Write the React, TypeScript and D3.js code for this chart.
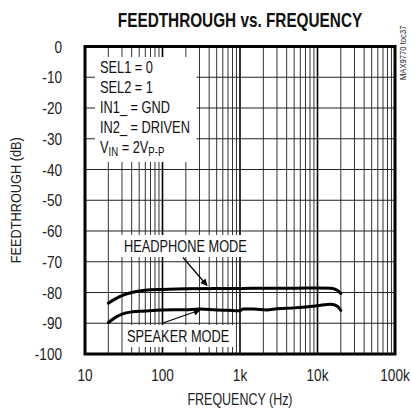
import React from "react";
import * as d3 from "d3";

// Frequency (Hz) and feedthrough (dB)
const headphoneFreq = [20, 25, 30, 40, 50, 70, 100, 200, 500, 1000, 2000, 5000, 10000, 15000, 18000, 20000];
const headphoneDb = [-83.5, -82, -81, -80, -79.5, -79.1, -79, -78.8, -78.7, -78.7, -78.6, -78.6, -78.5, -78.6, -79.3, -80.3];

const speakerFreq = [20, 25, 30, 40, 60, 100, 200, 300, 500, 700, 1000, 1100, 1500, 2200, 3000, 5000, 7000, 10000, 15000, 18000, 20000];
const speakerDb = [-89.8, -88, -87, -86.3, -86, -85.7, -85.6, -85.4, -85.7, -85.8, -85.9, -85.4, -85.4, -85.7, -85.3, -85, -84.7, -84.3, -83.8, -84.5, -85.8];

const yTicks = [0, -10, -20, -30, -40, -50, -60, -70, -80, -90, -100];
const xTicks = [10, 100, 1000, 10000, 100000];
const xTickLabels = ["10", "100", "1k", "10k", "100k"];

const condLines = ["SEL1 = 0", "SEL2 = 1", "IN1_ = GND", "IN2_ = DRIVEN"];

const W = 411;
const H = 410;
const margin = { top: 46.5, right: 16, bottom: 56, left: 85 };
const FONT = "'Liberation Sans', Arial, sans-serif";
const SX = 0.8; // condensed look

// horizontally squeezed text
function CText(props: {
  x: number;
  y: number;
  size?: number;
  anchor?: string;
  bold?: boolean;
  rotate?: number;
  sx?: number;
  fill?: string;
  children: React.ReactNode;
}) {
  const { x, y, size = 16, anchor = "start", bold, rotate = 0, sx = SX, fill = "#111", children } = props;
  return (
    <g transform={`translate(${x},${y}) rotate(${rotate}) scale(${sx},1)`}>
      <text textAnchor={anchor} fontFamily={FONT} fontSize={size} fontWeight={bold ? "bold" : "normal"} fill={fill}>
        {children}
      </text>
    </g>
  );
}

export default function App() {
  const iw = W - margin.left - margin.right;
  const ih = H - margin.top - margin.bottom;

  const x = d3.scaleLog().domain([10, 100000]).range([0, iw]);
  const y = d3.scaleLinear().domain([-100, 0]).range([ih, 0]);

  const minor: number[] = [];
  for (let d = 10; d < 100000; d *= 10) {
    for (let m = 2; m <= 9; m++) minor.push(d * m);
  }

  const line = d3
    .line<[number, number]>()
    .x((d) => x(d[0]))
    .y((d) => y(d[1]))
    .curve(d3.curveMonotoneX);

  const hp = headphoneFreq.map((f, i) => [f, headphoneDb[i]] as [number, number]);
  const sp = speakerFreq.map((f, i) => [f, speakerDb[i]] as [number, number]);

  // label boxes in plot coordinates
  const condBox = { x: 10, y: 10.5, w: 101.5, h: 105 };
  const hpBox = { x: 35, y: 188.5, w: 130, h: 22 };
  const spBox = { x: 38, y: 278.5, w: 110, h: 22 };

  return (
    <svg width={W} height={H} style={{ position: "absolute", left: 0, top: 0, background: "#fff" }}>
      <defs>
        <marker id="arr" viewBox="0 0 10 10" refX="9" refY="5" markerWidth="9" markerHeight="7" orient="auto" markerUnits="userSpaceOnUse">
          <path d="M0,0 L10,5 L0,10 z" fill="#000" />
        </marker>
      </defs>

      {/* Title */}
      <CText x={240} y={27} size={21} bold anchor="middle" sx={0.73}>
        FEEDTHROUGH vs. FREQUENCY
      </CText>

      <CText x={406} y={80} size={9} rotate={-90} sx={0.85} fill="#222">
        MAX9770 toc37
      </CText>

      <g transform={`translate(${margin.left},${margin.top})`}>
        {/* grid */}
        {minor.map((f) => (
          <line key={"m" + f} x1={x(f)} x2={x(f)} y1={0} y2={ih} stroke="#333" strokeWidth={1} />
        ))}
        {xTicks.map((f) => (
          <line key={"M" + f} x1={x(f)} x2={x(f)} y1={0} y2={ih} stroke="#000" strokeWidth={1.6} />
        ))}
        {yTicks.map((t) => (
          <line key={"h" + t} x1={0} x2={iw} y1={y(t)} y2={y(t)} stroke="#222" strokeWidth={1.2} />
        ))}

        {/* white label boxes over the grid */}
        <rect x={condBox.x} y={condBox.y} width={condBox.w} height={condBox.h} fill="#fff" />
        <rect x={hpBox.x} y={hpBox.y} width={hpBox.w} height={hpBox.h} fill="#fff" />
        <rect x={spBox.x} y={spBox.y} width={spBox.w} height={spBox.h} fill="#fff" />

        {/* curves */}
        <path d={line(hp) ?? ""} fill="none" stroke="#000" strokeWidth={3} strokeLinejoin="round" strokeLinecap="round" />
        <path d={line(sp) ?? ""} fill="none" stroke="#000" strokeWidth={3} strokeLinejoin="round" strokeLinecap="round" />

        {/* frame */}
        <rect x={0} y={0} width={iw} height={ih} fill="none" stroke="#000" strokeWidth={3} />

        {/* condition text */}
        {condLines.map((s, i) => (
          <CText key={s} x={15} y={26.5 + i * 20} size={16}>
            {s}
          </CText>
        ))}
        <CText x={15} y={106} size={16}>
          <tspan>V</tspan>
          <tspan fontSize={12} dy={3}>IN</tspan>
          <tspan dy={-3}> = 2V</tspan>
          <tspan fontSize={12} dy={3}>P-P</tspan>
        </CText>

        {/* mode labels */}
        <CText x={39} y={205.5} size={16}>
          HEADPHONE MODE
        </CText>
        <line x1={98} y1={211} x2={122} y2={239} stroke="#000" strokeWidth={1.2} markerEnd="url(#arr)" />

        <CText x={42} y={295.5} size={16}>
          SPEAKER MODE
        </CText>
        <line x1={78} y1={276.5} x2={115} y2={263.5} stroke="#000" strokeWidth={1.2} markerEnd="url(#arr)" />

        {/* y axis labels */}
        {yTicks.map((t) => (
          <CText key={"yl" + t} x={-23} y={y(t) + 6} size={17} anchor="end" fill="#222">
            {t}
          </CText>
        ))}
        {/* x axis labels */}
        {xTicks.map((f, i) => (
          <CText key={"xl" + f} x={x(f)} y={ih + 27} size={17} anchor="middle" fill="#222">
            {xTickLabels[i]}
          </CText>
        ))}

        <CText x={iw / 2} y={ih + 51} size={16} sx={0.78} anchor="middle" fill="#222">
          FREQUENCY (Hz)
        </CText>
        <CText x={-64} y={ih / 2} size={15} sx={0.85} anchor="middle" rotate={-90} fill="#222">
          FEEDTHROUGH (dB)
        </CText>
      </g>
    </svg>
  );
}
